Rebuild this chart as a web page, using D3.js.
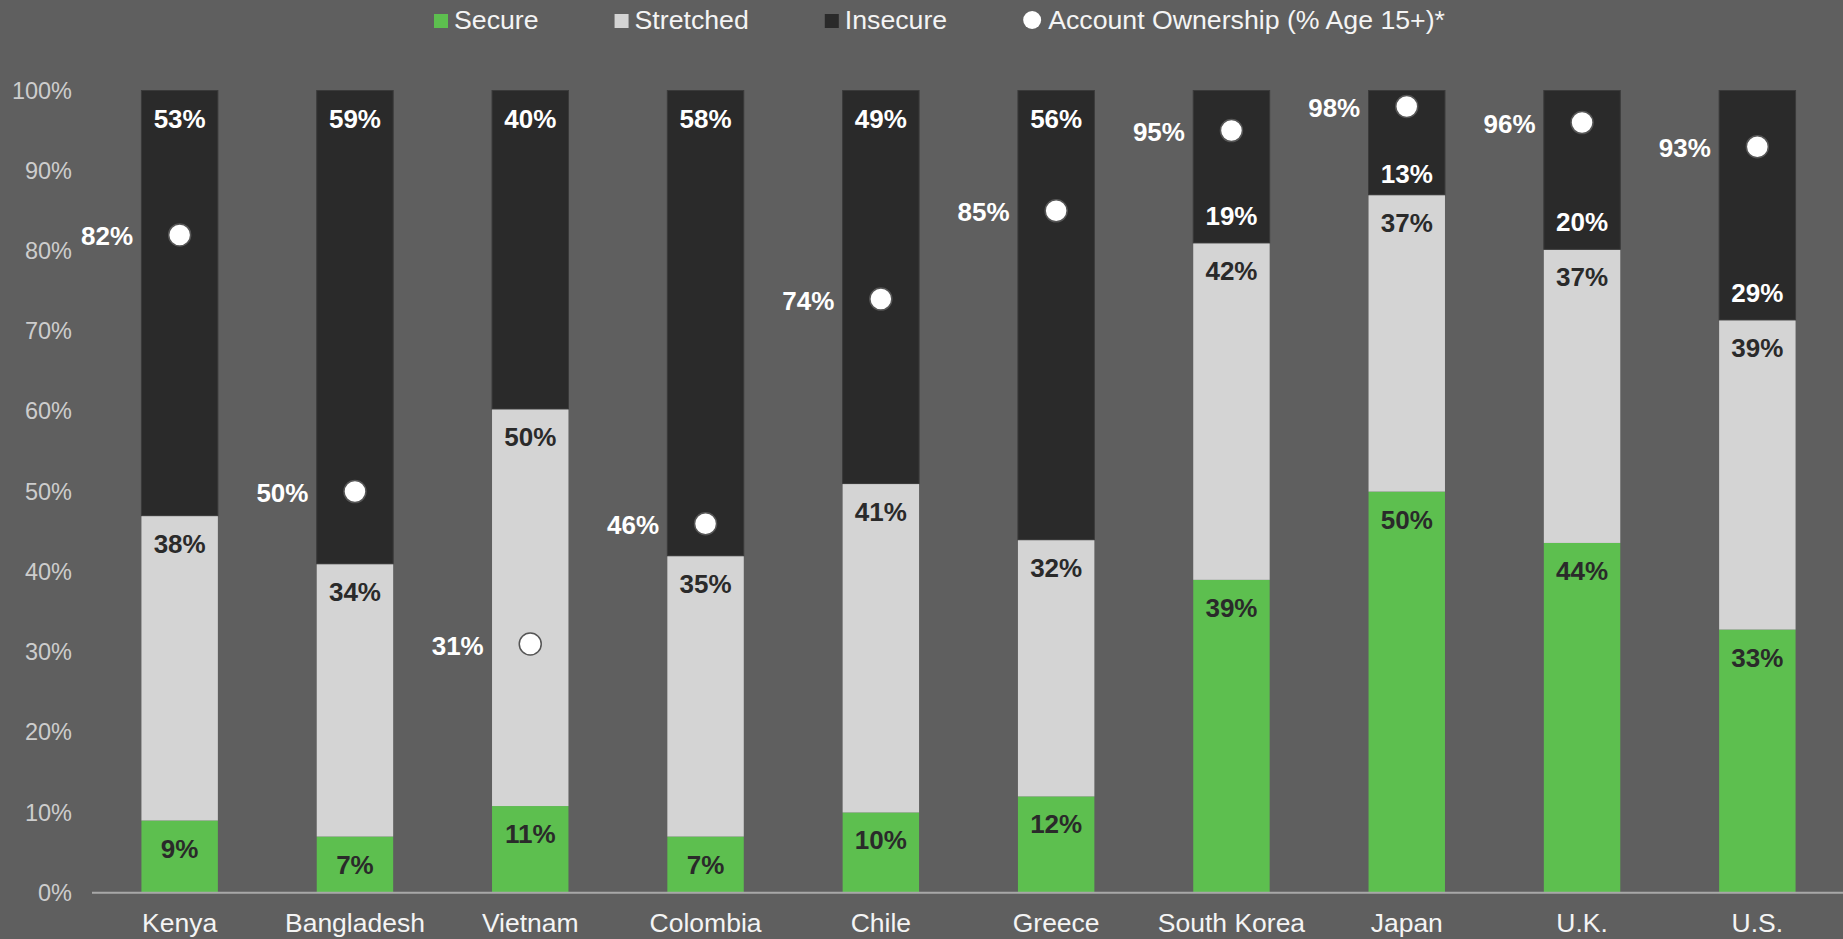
<!DOCTYPE html>
<html>
<head>
<meta charset="utf-8">
<script src="https://cdn.jsdelivr.net/npm/d3@7"></script>
<style>
  html, body { margin: 0; padding: 0; background: #5f5f5f; }
  svg { display: block; font-family: "Liberation Sans", Arial, sans-serif; }
</style>
</head>
<body>
<svg id="chart" width="1843" height="939"></svg>
<script>
const categories = ["Kenya", "Bangladesh", "Vietnam", "Colombia", "Chile", "Greece", "South Korea", "Japan", "U.K.", "U.S."];
const secure     = [9, 7, 10.8, 7, 10, 12, 39, 50, 43.6, 32.8];
const stretched  = [38, 34, 49.5, 35, 41, 32, 42, 37, 36.6, 38.6];
const insecure   = [53, 59, 39.7, 58, 49, 56, 19, 13, 19.8, 28.6];
const ownership  = [82, 50, 31, 46, 74, 85, 95, 98, 96, 93];
const yTicks     = [0, 10, 20, 30, 40, 50, 60, 70, 80, 90, 100];
const seriesNames = ["Secure", "Stretched", "Insecure"];
const dotName = "Account Ownership (% Age 15+)*";

const W = 1843, H = 939;
const colors = { Secure: "#5dbf4f", Stretched: "#d4d4d4", Insecure: "#2a2a2a" };
const labelColors = { Secure: "#2a2a2a", Stretched: "#2a2a2a", Insecure: "#ffffff" };

const svg = d3.select("#chart");
svg.append("rect").attr("width", W).attr("height", H).attr("fill", "#5f5f5f");

const x = d3.scaleBand().domain(categories).range([92, 1845]).paddingInner(0.564).paddingOuter(0.282);
const y = d3.scaleLinear().domain([0, 100]).range([892.7, 90.5]);

const rows = categories.map((c, i) => ({ cat: c, Secure: secure[i], Stretched: stretched[i], Insecure: insecure[i], own: ownership[i] }));
const stacked = d3.stack().keys(seriesNames)(rows);

// y axis tick labels
const yAxis = d3.axisLeft(y).tickValues(yTicks).tickFormat(d => d + "%").tickSize(0).tickPadding(0);
const gy = svg.append("g").attr("transform", "translate(72,0)").call(yAxis);
gy.select(".domain").remove();
gy.selectAll("text").attr("fill", "#cdcdcd").attr("font-size", 23.5).attr("font-family", "'Liberation Sans', Arial, sans-serif");

// bars
stacked.forEach(s => {
  svg.append("g").selectAll("rect").data(s).join("rect")
    .attr("x", d => x(d.data.cat))
    .attr("width", x.bandwidth())
    .attr("y", d => y(d[1]))
    .attr("height", d => y(d[0]) - y(d[1]))
    .attr("fill", colors[s.key])
    .attr("stroke", s.key === "Insecure" ? "#3a3a3a" : "none")
    .attr("stroke-width", 1);
});

// x axis
const xAxis = d3.axisBottom(x).tickSize(0).tickPadding(0);
const gx = svg.append("g").attr("transform", `translate(0,${y(0)})`).call(xAxis);
gx.select(".domain").remove();
gx.selectAll("text").attr("fill", "#f4f4f4").attr("font-size", 26.5)
  .attr("font-family", "'Liberation Sans', Arial, sans-serif")
  .attr("dy", null).attr("y", 39);
svg.append("line").attr("x1", 92).attr("x2", W).attr("y1", y(0)).attr("y2", y(0))
  .attr("stroke", "#a8a8a8").attr("stroke-width", 2);

// segment labels
stacked.forEach(s => {
  svg.append("g").selectAll("text").data(s).join("text")
    .attr("x", d => x(d.data.cat) + x.bandwidth() / 2)
    .attr("y", d => {
      if (s.key === "Insecure" && d.data.own > 90) {
        const h = y(d[0]) - y(d[1]);
        return y(d[0]) - Math.min(27, h * 0.2) + 9;
      }
      return y(d[1]) + 28 + 9;
    })
    .attr("text-anchor", "middle")
    .attr("font-size", 26).attr("font-weight", "bold")
    .attr("fill", labelColors[s.key])
    .text(d => Math.round(d[1] - d[0]) + "%");
});

// ownership dots
const dots = svg.append("g");
dots.selectAll("circle").data(rows).join("circle")
  .attr("cx", d => x(d.cat) + x.bandwidth() / 2)
  .attr("cy", d => y(d.own))
  .attr("r", 11)
  .attr("fill", "#ffffff")
  .attr("stroke", "#555555").attr("stroke-width", 1.5);
dots.selectAll("text").data(rows).join("text")
  .attr("x", d => x(d.cat) + x.bandwidth() / 2 - 46.5)
  .attr("y", d => y(d.own) + 1.5 + 9)
  .attr("text-anchor", "end")
  .attr("font-size", 26).attr("font-weight", "bold")
  .attr("fill", "#ffffff")
  .text(d => d.own + "%");

// legend
const legend = svg.append("g");
let lx = 434;
const legendItems = seriesNames.map(n => ({ name: n, type: "square" })).concat([{ name: dotName, type: "circle" }]);
legendItems.forEach(item => {
  if (item.type === "square") {
    legend.append("rect").attr("x", lx).attr("y", 14).attr("width", 14).attr("height", 14).attr("fill", colors[item.name]);
    lx += 14 + 6;
  } else {
    legend.append("circle").attr("cx", lx + 9).attr("cy", 20).attr("r", 9).attr("fill", "#ffffff");
    lx += 18 + 7;
  }
  const t = legend.append("text").attr("x", lx).attr("y", 29)
    .attr("font-size", 26.7).attr("fill", "#f4f4f4").text(item.name);
  lx += t.node().getComputedTextLength() + 76;
});
</script>
</body>
</html>
